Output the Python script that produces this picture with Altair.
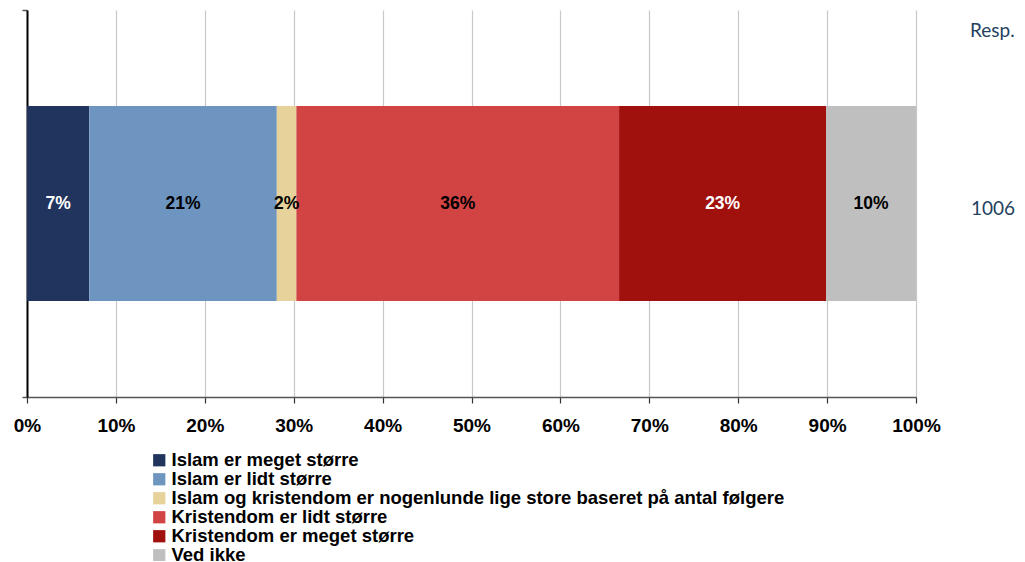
import altair as alt
import pandas as pd

categories = [
    "Islam er meget større",
    "Islam er lidt større",
    "Islam og kristendom er nogenlunde lige store baseret  på antal følgere",
    "Kristendom er lidt større",
    "Kristendom er meget større",
    "Ved ikke",
]
values = [7.0, 21.1, 2.2, 36.3, 23.3, 10.1]
colors = ["#20345E", "#6D95C0", "#E6D29A", "#D24444", "#A0100D", "#BFBFBF"]
label_colors = ["white", "black", "black", "black", "white", "black"]
row_label = "1006"
resp_header = "Resp."
x_ticks = [0, 10, 20, 30, 40, 50, 60, 70, 80, 90, 100]

df = pd.DataFrame({
    "cat": categories,
    "value": values,
    "order": list(range(len(categories))),
    "lc": label_colors,
    "row": [row_label] * len(categories),
})
df["end"] = df["value"].cumsum()
df["start"] = df["end"] - df["value"]
df["mid"] = (df["start"] + df["end"]) / 2
df["txt"] = df["value"].round(0).astype(int).astype(str) + "%"

FONT = "Liberation Sans"

xscale = alt.Scale(domain=[0, 100], nice=False, zero=True)
yscale = alt.Scale(paddingInner=0, paddingOuter=0)

base = alt.Chart(df)

bars = base.mark_bar(size=195).encode(
    x=alt.X("start:Q", scale=xscale,
            axis=alt.Axis(values=x_ticks, labelExpr="datum.value + '%'", title=None,
                          grid=True, gridColor="#C8C8C8", gridWidth=1.2,
                          domainColor="#555555", domainWidth=1.5,
                          tickColor="#333333", tickSize=6, tickWidth=1.2,
                          labelFont=FONT, labelFontWeight="bold", labelFontSize=19,
                          labelColor="black", labelPadding=13, labelFlush=False)),
    x2="end:Q",
    y=alt.Y("row:N", scale=yscale,
            axis=alt.Axis(labels=False, title=None, ticks=True, tickBand="extent",
                          tickSize=5, tickColor="#555555", tickWidth=1.5,
                          domainColor="black", domainWidth=2, grid=False)),
    color=alt.Color("cat:N", scale=alt.Scale(domain=categories, range=colors),
                    sort=categories,
                    legend=alt.Legend(title=None, orient="none", legendX=123, legendY=441,
                                      symbolType="square", symbolSize=150,
                                      symbolStrokeWidth=0, labelFont=FONT,
                                      labelFontWeight="bold", labelFontSize=18.5,
                                      labelColor="black", labelLimit=900,
                                      rowPadding=0, padding=0, labelOffset=3,
                                      symbolOpacity=1)),
    order=alt.Order("order:Q"),
)

texts = base.mark_text(font=FONT, fontWeight="bold", fontSize=17.5, baseline="middle").encode(
    x=alt.X("mid:Q", scale=xscale),
    y=alt.Y("row:N", scale=yscale),
    text="txt:N",
    color=alt.Color("lc:N", scale=None),
)

hdr_df = pd.DataFrame({"t": [resp_header]})
hdr = alt.Chart(hdr_df).mark_text(font="Lato", fontSize=19, color="#243F60",
                                  align="left", baseline="middle").encode(
    x=alt.value(943), y=alt.value(21), text="t:N")

rl_df = pd.DataFrame({"row": [row_label]})
rl = alt.Chart(rl_df).mark_text(font="Lato", fontSize=19, color="#243F60",
                                align="left", baseline="middle", dy=5).encode(
    x=alt.value(944), y=alt.Y("row:N", scale=yscale), text="row:N")

chart = alt.layer(bars, texts, hdr, rl).properties(
    width=889, height=387,
    autosize=alt.AutoSizeParams(type="none"),
    padding={"left": 19, "top": 2, "right": 101, "bottom": 164},
).configure_view(stroke=None)

chart.save("out.html", embed_options={"renderer": "svg", "actions": False})
